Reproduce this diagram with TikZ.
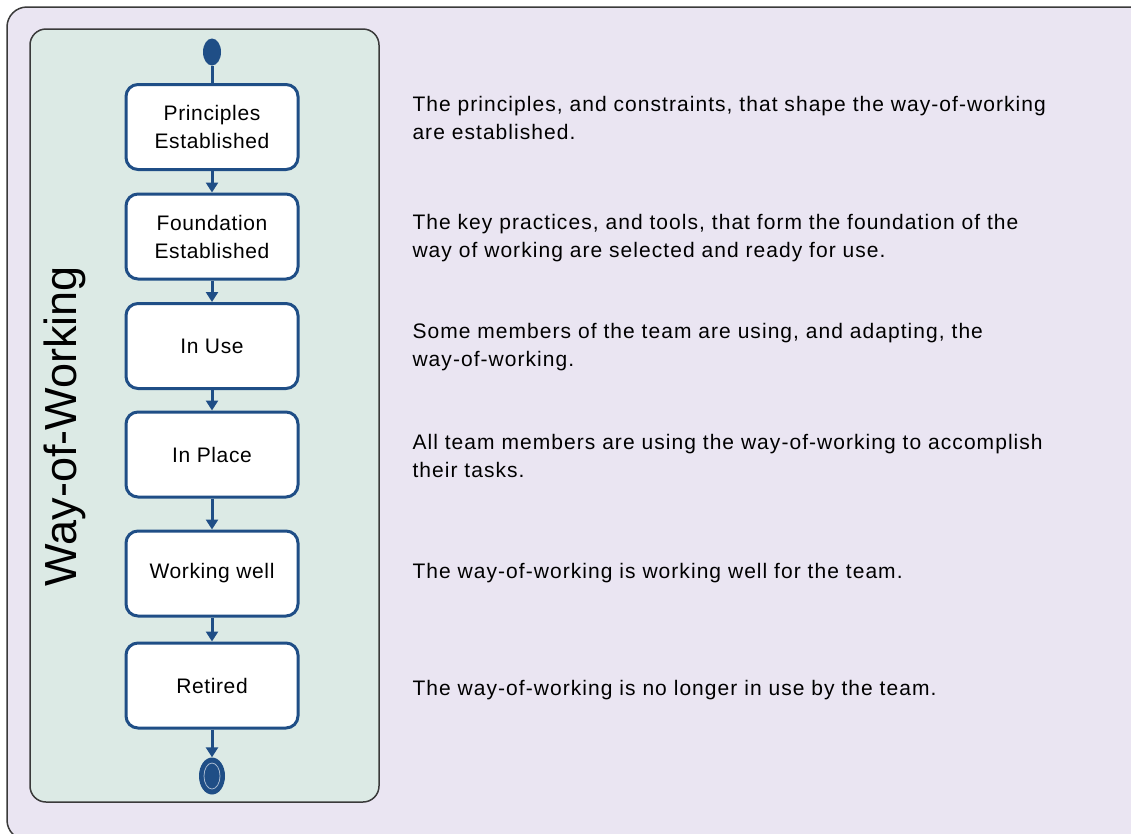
\documentclass[tikz,border=0pt]{standalone}
\usepackage{fontspec}
\setmainfont{Liberation Sans}
\newfontfamily\wowfont[LetterSpace=3]{Liberation Sans}
\newfontfamily\wowdescfont[LetterSpace=5]{Liberation Sans}
\usetikzlibrary{shapes.geometric,arrows.meta,positioning}
\definecolor{wowblue}{HTML}{1F4E86}
\definecolor{wowframe}{HTML}{3A3A3A}
\definecolor{wowpage}{HTML}{EAE5F2}
\definecolor{wowpanel}{HTML}{DCEAE5}
\tikzset{>=latex}

\begin{document}
\begin{tikzpicture}[x=1pt,y=-1pt,
    state/.style={draw=wowblue,line width=3pt,fill=white,rounded corners=12pt,
      minimum width=172pt,minimum height=85pt,align=center,
      font=\wowfont\fontsize{21}{28}\selectfont},
    descr/.style={anchor=west,align=left,font=\wowdescfont\fontsize{21}{28}\selectfont},
    flow/.style={draw=wowblue,line width=3pt,-{Triangle[width=12pt,length=10pt]}}]
    \useasboundingbox (0,0) rectangle (1131,833);
    \clip (0,0) rectangle (1131,833);
    % background and panel
    \fill[white] (0,0) rectangle (1131,833);
    \draw[wowframe,line width=1.5pt,fill=wowpage,rounded corners=20pt] (7,7) rectangle (1150,840);
    \draw[wowframe,line width=1.5pt,fill=wowpanel,rounded corners=16pt] (30,29) rectangle (379,802);
    \node[rotate=90,font=\fontsize{45}{45}\selectfont] (title) at (65,426) {Way-of-Working};
    % states
    \node[ellipse,fill=wowblue,minimum width=18pt,minimum height=27pt,inner sep=0pt] (start) at (212,52) {};
    \node[state] (principles) at (212,127) {Principles\\Established};
    \node[state] (foundation) at (212,236.5) {Foundation\\Established};
    \node[state] (inuse) at (212,346) {In Use};
    \node[state] (inplace) at (212,454.5) {In Place};
    \node[state] (working) at (212,573.5) {Working well};
    \node[state] (retired) at (212,685.5) {Retired};
    \node[ellipse,fill=wowblue,minimum width=26pt,minimum height=37pt,inner sep=0pt] (stop) at (212,776) {};
    \draw[white!60!wowblue,line width=0.8pt] (stop.center) ellipse (8pt and 13pt);
    % transitions
    \draw[wowblue,line width=3pt] (start) -- (principles);
    \draw[flow] (principles) -- (foundation);
    \draw[flow] (foundation) -- (inuse);
    \draw[flow] (inuse) -- (inplace);
    \draw[flow] (inplace) -- (working);
    \draw[flow] (working) -- (retired);
    \draw[flow] (retired) -- (stop);
    % descriptions
    \node[descr] (dprinciples) at (409,118) {The principles, and constraints, that shape the way-of-working\\are established.};
    \node[descr] (dfoundation) at (409,238) {The key practices, and tools, that form the foundation of the\\way of working are selected and ready for use.};
    \node[descr] (dinuse) at (409,347) {Some members of the team are using, and adapting, the\\way-of-working.};
    \node[descr] (dinplace) at (409,456) {All team members are using the way-of-working to accomplish\\their tasks.};
    \node[descr] (dworking) at (409,573) {The way-of-working is working well for the team.};
    \node[descr] (dretired) at (409,690) {The way-of-working is no longer in use by the team.};
\end{tikzpicture}
\end{document}
